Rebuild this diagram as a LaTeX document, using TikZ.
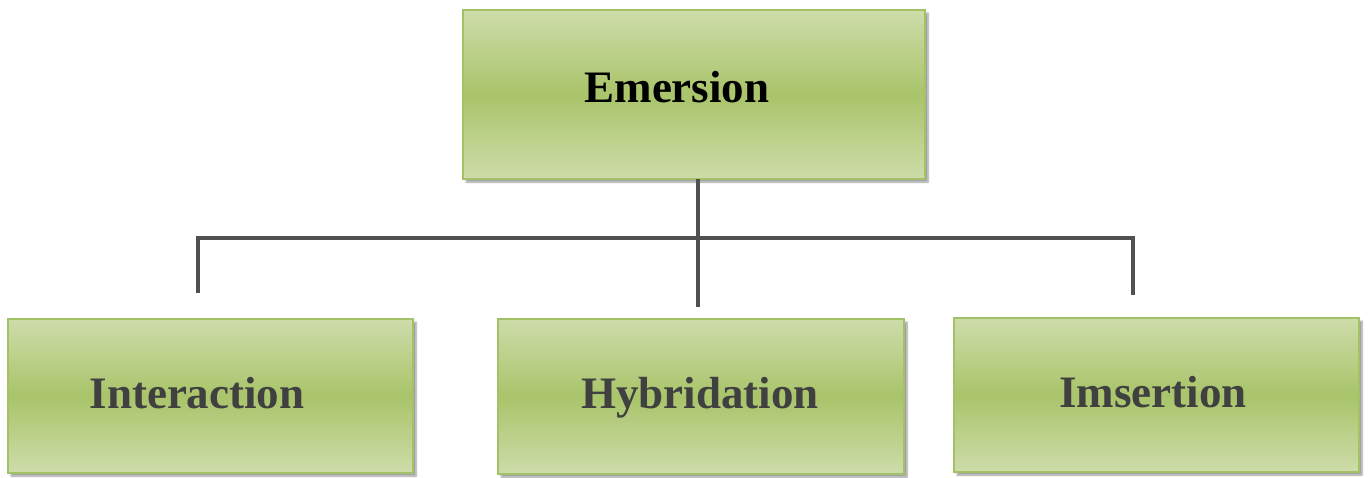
\documentclass[tikz,border=0pt]{standalone}
\usepackage{fontspec}
\setmainfont{Liberation Serif}
\usetikzlibrary{shadows.blur}
\definecolor{gtop}{RGB}{206,220,170}
\definecolor{gmid}{RGB}{169,196,106}
\definecolor{gborder}{RGB}{163,193,103}
\definecolor{linec}{RGB}{80,80,80}
\definecolor{txtc}{RGB}{64,64,64}
\tikzset{
  gbox/.style={draw=gborder, line width=2.5pt, top color=gtop, bottom color=gtop, middle color=gmid,
    blur shadow={shadow xshift=3pt, shadow yshift=-3pt, shadow blur steps=6, shadow opacity=40},
    inner sep=0pt, outer sep=0pt, anchor=north west},
  lbl/.style={font=\fontsize{45}{50}\selectfont\bfseries, anchor=base, inner sep=0pt},
  conn/.style={draw=linec, line width=3.5pt}
}
\begin{document}
\begin{tikzpicture}[x=1pt,y=-1pt]
\useasboundingbox (0,0) rectangle (1370,477);
\node[gbox, minimum width=462pt, minimum height=169pt] (emersion) at (463,10) {};
\node[gbox, minimum width=405pt, minimum height=154pt] (interaction) at (8,319) {};
\node[gbox, minimum width=406pt, minimum height=155pt] (hybridation) at (498,319) {};
\node[gbox, minimum width=405pt, minimum height=154pt] (imsertion) at (954,318) {};
\node[lbl, text=black] (temersion) at (677,102) {Emersion};
\node[lbl, text=txtc] (tinteraction) at (197,408) {Interaction};
\node[lbl, text=txtc] (thybridation) at (700,408) {Hybridation};
\node[lbl, text=txtc] (timsertion) at (1153,407) {Imsertion};
\coordinate (jmid) at (698,238);
\coordinate (jleft) at (198,238);
\coordinate (jright) at (1133,238);
\coordinate (eleft) at (198,293);
\coordinate (emid) at (698,307);
\coordinate (eright) at (1133,295);
\draw[conn] (emersion.south -| jmid) -- (emid);
\draw[conn] (eleft) -- (jleft) -- (jright) -- (eright);
\end{tikzpicture}
\end{document}
